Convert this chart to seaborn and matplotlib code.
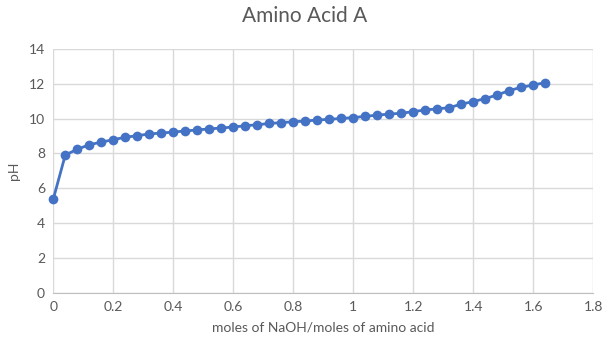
import pandas as pd
import numpy as np
import matplotlib
matplotlib.use('Agg')
import matplotlib.pyplot as plt
import seaborn as sns

# titration data
moles_ratio = [0.00, 0.04, 0.08, 0.12, 0.16, 0.20, 0.24, 0.28, 0.32, 0.36,
               0.40, 0.44, 0.48, 0.52, 0.56, 0.60, 0.64, 0.68, 0.72, 0.76,
               0.80, 0.84, 0.88, 0.92, 0.96, 1.00, 1.04, 1.08, 1.12, 1.16,
               1.20, 1.24, 1.28, 1.32, 1.36, 1.40, 1.44, 1.48, 1.52, 1.56,
               1.60, 1.64]
ph_values = [5.38, 7.91, 8.24, 8.50, 8.65, 8.79, 8.93, 9.02, 9.12, 9.17,
             9.23, 9.29, 9.35, 9.41, 9.46, 9.52, 9.59, 9.65, 9.72, 9.77,
             9.82, 9.86, 9.92, 9.96, 10.01, 10.06, 10.13, 10.20, 10.26, 10.31,
             10.40, 10.50, 10.56, 10.63, 10.83, 10.98, 11.15, 11.36, 11.61, 11.80,
             11.93, 12.07]

df = pd.DataFrame({'ratio': moles_ratio, 'pH': ph_values})

sns.set_style('white')
plt.rcParams['font.family'] = ['Lato', 'DejaVu Sans']

fig = plt.figure(figsize=(6.09, 3.55), dpi=100)
ax = fig.add_axes([0.0875, 0.1755, 0.8865, 0.6865])

sns.lineplot(data=df, x='ratio', y='pH', ax=ax, color='#4472C4',
             marker='o', markersize=7, markeredgewidth=0, linewidth=2,
             clip_on=False, zorder=3)

ax.set_xlim(0, 1.8)
ax.set_ylim(0, 14)
ax.set_xticks(np.arange(0, 1.81, 0.2))
ax.set_yticks(np.arange(0, 15, 2))
ax.set_xticklabels(['0', '0.2', '0.4', '0.6', '0.8', '1', '1.2', '1.4', '1.6', '1.8'])
ax.grid(True, color='#D9D9D9', linewidth=1)
ax.set_axisbelow(True)
for side in ['top', 'right', 'left']:
    ax.spines[side].set_visible(False)
ax.spines['bottom'].set_color('#BFBFBF')
ax.tick_params(axis='both', length=0, labelsize=10, labelcolor='#595959', pad=6)

ax.set_xlabel('moles of NaOH/moles of amino acid', fontsize=10, color='#595959', labelpad=6)
ax.set_ylabel('pH', fontsize=10, color='#595959', labelpad=6)
fig.text(0.5, 0.955, 'Amino Acid A', ha='center', va='center', fontsize=15, color='#595959')

plt.savefig('out.png', dpi=100)
